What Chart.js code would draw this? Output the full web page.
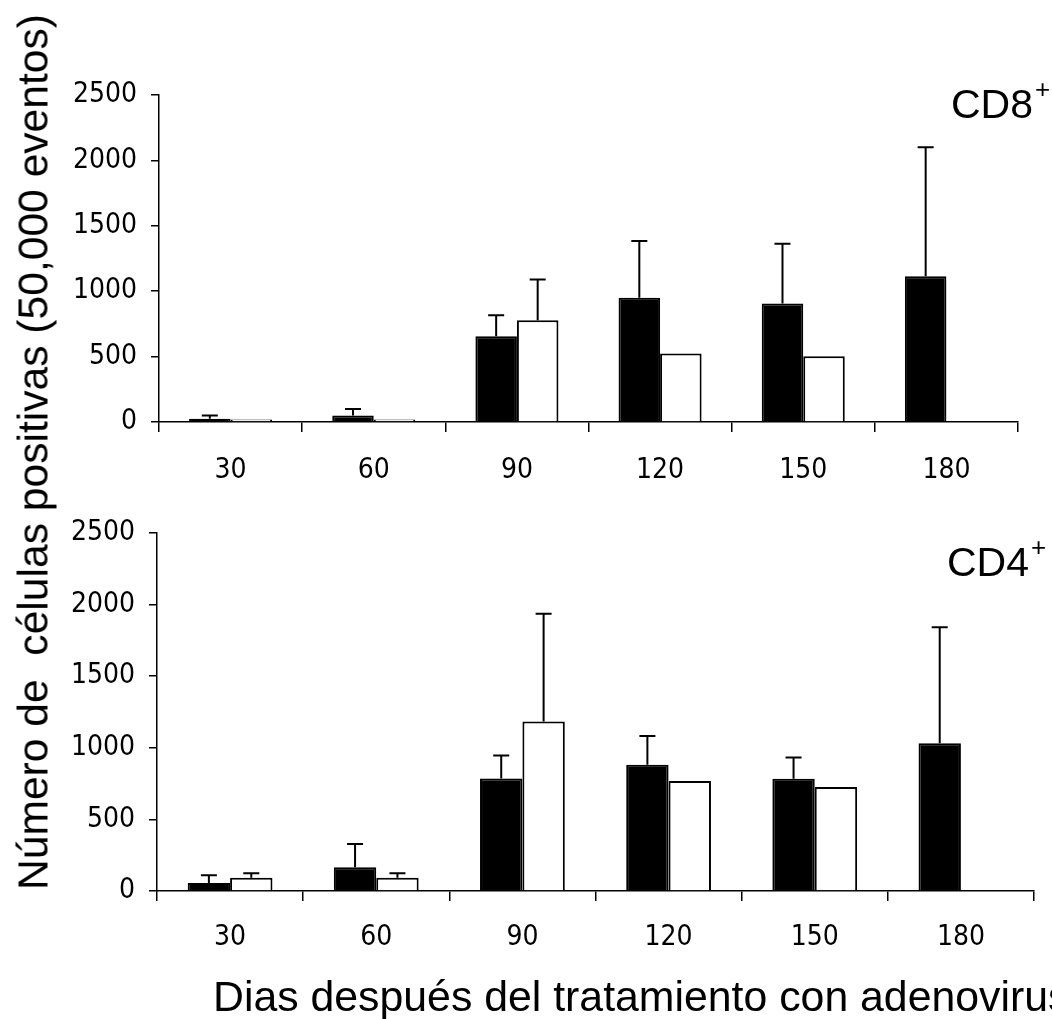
<!DOCTYPE html>
<html lang="es">
<head>
    <meta charset="UTF-8" />
    <title>CD8+ / CD4+</title>
    <script src="https://cdn.jsdelivr.net/npm/chart.js"></script>
    <style>
        body { margin: 0; background: #fff; width: 1052px; height: 1019px; overflow: hidden; position: relative; }
        .panel { position: absolute; left: 0; width: 1052px; }
        #top { top: 0; height: 500px; }
        #bottom { top: 500px; height: 519px; }
        .ytitle {
            position: absolute; left: 33px; top: 452px;
            transform: translate(-50%, -50%) rotate(-90deg);
            font-family: 'Liberation Sans', Arial, sans-serif; font-size: 42.6px;
            white-space: pre; color: #000;
        }
        .xtitle {
            position: absolute; left: 213px; top: 972px;
            font-family: 'Liberation Sans', Arial, sans-serif; font-size: 42.8px;
            white-space: pre; color: #000; line-height: 48px;
        }
        .tag {
            position: absolute; font-family: 'Liberation Sans', Arial, sans-serif;
            font-size: 41px; color: #000; line-height: 41px; white-space: pre;
        }
        .tag .plus { position: absolute; font-size: 26px; line-height: 26px; left: 84px; top: -8px; }
    </style>
</head>
<body>

    <div class="panel" id="top"><canvas id="cd8Chart"></canvas></div>
    <div class="panel" id="bottom"><canvas id="cd4Chart"></canvas></div>

    <div class="ytitle">Número de  células positivas (50,000 eventos)</div>
    <div class="xtitle">Dias después del tratamiento con adenovirus</div>
    <div class="tag" style="left:951px; top:84px;">CD8<span class="plus">+</span></div>
    <div class="tag" style="left:947px; top:542px;">CD4<span class="plus">+</span></div>

    <script>
        // days after treatment
        const days = ['30', '60', '90', '120', '150', '180'];
        const yTicks = [0, 500, 1000, 1500, 2000, 2500];

        // CD8+ panel
        const cd8Black = [25, 50, 656, 949, 906, 1115];
        const cd8BlackErr = [25, 50, 160, 434, 456, 985];
        const cd8White = [20, 20, 778, 523, 503, null];
        const cd8WhiteErr = [0, 0, 311, 0, 0, 0];

        // CD4+ panel
        const cd4Black = [56, 166, 786, 882, 784, 1031];
        const cd4BlackErr = [54, 163, 161, 201, 149, 810];
        const cd4White = [93, 93, 1183, 768, 726, null];
        const cd4WhiteErr = [31, 31, 753, 0, 0, 0];

        const tickFont = { family: "'Liberation Sans Narrow', 'Arial Narrow', 'DejaVu Sans Condensed', sans-serif", size: 28 };

        // upper error bars (only the + side, like the original)
        const errorBars = {
            id: 'errorBars',
            afterDatasetsDraw(chart) {
                const ctx = chart.ctx;
                const y = chart.scales.y;
                chart.data.datasets.forEach((ds, i) => {
                    const meta = chart.getDatasetMeta(i);
                    meta.data.forEach((bar, j) => {
                        const v = ds.data[j];
                        const e = ds.errors[j];
                        if (v == null || !e) return;
                        const yTop = y.getPixelForValue(v + e);
                        ctx.save();
                        ctx.strokeStyle = '#000';
                        ctx.lineWidth = 2;
                        ctx.beginPath();
                        ctx.moveTo(bar.x, bar.y);
                        ctx.lineTo(bar.x, yTop);
                        ctx.moveTo(bar.x - 8, yTop);
                        ctx.lineTo(bar.x + 8, yTop);
                        ctx.stroke();
                        ctx.restore();
                    });
                });
            }
        };

        function makeChart(id, black, blackErr, white, whiteErr, pad, yWidth, xHeight, labelPad) {
            return new Chart(document.getElementById(id), {
                type: 'bar',
                data: {
                    labels: days,
                    datasets: [{
                        data: black,
                        errors: blackErr,
                        backgroundColor: '#000',
                        borderColor: '#000',
                        borderWidth: 2
                    }, {
                        data: white,
                        errors: whiteErr,
                        backgroundColor: '#fff',
                        borderColor: '#000',
                        borderWidth: 2
                    }]
                },
                options: {
                    responsive: true,
                    maintainAspectRatio: false,
                    animation: false,
                    layout: { padding: pad },
                    categoryPercentage: 0.58,
                    barPercentage: 1.0,
                    plugins: { legend: { display: false }, tooltip: { enabled: false } },
                    scales: {
                        x: {
                            grid: { display: true, drawOnChartArea: false, offset: true, tickLength: 10, color: '#000', lineWidth: 1.5 },
                            border: { display: true, color: '#000', width: 1.5 },
                            ticks: { color: '#000', font: tickFont, padding: labelPad, maxRotation: 0 },
                            afterFit(scale) { scale.height = xHeight; }
                        },
                        y: {
                            min: 0,
                            max: 2500,
                            afterBuildTicks(scale) { scale.ticks = yTicks.map(v => ({ value: v })); },
                            grid: { display: true, drawOnChartArea: false, tickLength: 8, color: '#000', lineWidth: 1.5 },
                            border: { display: true, color: '#000', width: 1.5 },
                            ticks: { color: '#000', font: tickFont, padding: 14, callback: v => String(v) },
                            afterFit(scale) { scale.width = yWidth; }
                        }
                    }
                },
                plugins: [errorBars]
            });
        }

        makeChart('cd8Chart', cd8Black, cd8BlackErr, cd8White, cd8WhiteErr,
            { left: 0, right: 34, top: 95, bottom: 0 }, 159, 78, 22);
        makeChart('cd4Chart', cd4Black, cd4BlackErr, cd4White, cd4WhiteErr,
            { left: 0, right: 18, top: 33, bottom: 0 }, 157, 128, 20);
    </script>

</body>
</html>
